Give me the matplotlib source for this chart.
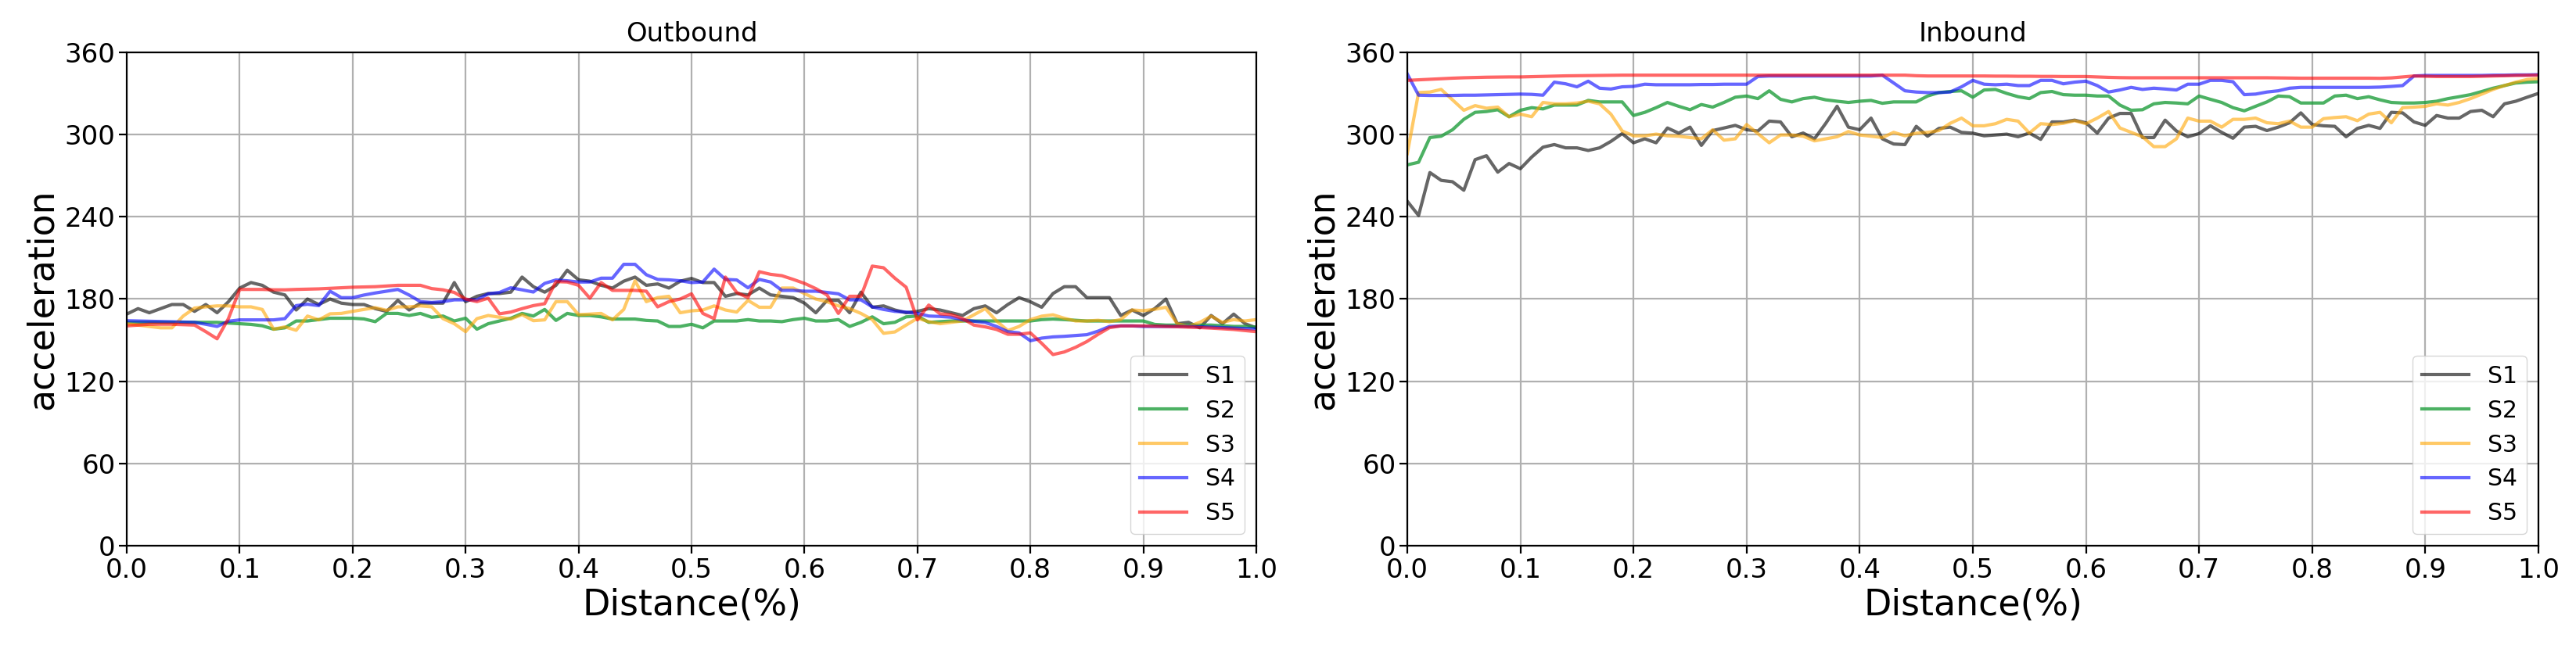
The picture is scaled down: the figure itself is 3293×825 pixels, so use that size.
import numpy as np
import matplotlib
matplotlib.use("Agg")
import matplotlib.pyplot as plt

# distance axis, 101 samples from 0 to 1
dist = np.linspace(0, 1, 101)

names = ["S1", "S2", "S3", "S4", "S5"]
colors = ["black", "#1f9e3c", "orange", "blue", "red"]
alphas = [0.6, 0.8, 0.6, 0.6, 0.6]

# ---------------- Outbound ----------------
out_s1 = [169, 173, 170, 173, 176, 176, 171, 176, 170, 178,
          188, 192, 190, 185, 183, 172, 180, 176, 180, 177,
          176, 176, 173, 171, 179, 172, 177, 177, 177, 192,
          178, 182, 184, 184, 185, 196, 189, 185, 190, 201,
          194, 193, 190, 188, 193, 196, 190, 191, 188, 193,
          195,
          192, 192, 182, 184, 183, 188, 183, 182, 181, 177,
          170, 179, 179, 170, 185, 174, 175, 172, 170, 171,
          173, 172, 170, 168, 173, 175, 170, 176, 181, 178,
          174, 184, 189, 189, 181, 181, 181, 168, 172, 168,
          173, 180, 162, 163, 159, 168, 162, 169, 162, 159]
out_s2 = [163, 163, 163, 163, 163, 163, 163, 163, 163, 162.5,
          162, 161.5, 160.5, 158, 159, 164, 164, 165, 166, 166,
          166, 165.5, 163.5, 169.5, 169.5, 168, 169.5, 166.7, 167.6, 164,
          166, 158, 162, 164, 166, 169.5, 167.6, 172.4, 164.4, 169.5,
          168, 168, 167, 165.4, 165.4, 165.4, 164.4, 164, 160, 160,
          161.6,
          159, 164, 164, 164, 165, 164, 164, 163.5, 165, 166,
          164, 164, 165, 160, 163, 167, 162, 163, 167, 167.6,
          163, 163.5, 164, 164, 164, 164, 164, 164, 164, 164,
          165, 165.4, 165, 164.5, 164, 164, 164, 164, 164, 164,
          161.5, 161, 161, 161, 161, 161, 160.5, 160, 160, 159.5]
out_s3 = [162, 161, 160, 159, 159, 167.6, 173.4, 174.3, 175, 175,
          174.3, 174.3, 172.4, 158, 159.7, 157.2, 167.6, 164.8, 169.2, 169.5,
          171, 172.4, 173.7, 171.8, 174.3, 174.3, 175, 174.3, 165.7, 162,
          156.2, 165.7, 168, 166.7, 165.4, 168.6, 164.2, 164.8, 178.1, 178.1,
          168.6, 169, 169.5, 164.8, 172.4, 193.3, 178.1, 181, 182, 170,
          171.4,
          172, 175, 172, 170.5, 179, 174, 174, 188, 188, 184,
          180, 178, 175, 173, 169.5, 165, 155, 156, 161, 166,
          163.5, 162, 163, 164, 168.5, 173, 164, 157, 160, 165,
          167.5, 168.5, 166, 164, 164, 164.5, 163.5, 165, 172, 171.5,
          172.5, 174, 162, 160, 163, 167.5, 163, 165, 164, 165]
out_s4 = [164.2, 164, 163.8, 163.6, 163.4, 163.2, 163, 161.6, 160, 163.8,
          164.8, 164.8, 164.8, 164.8, 165.7, 175.2, 176.2, 175.2, 185.7, 181,
          181, 182.9, 184.4, 185.7, 187, 182.9, 178.1, 177.5, 178.1, 179.4,
          179.4, 179.4, 183.8, 184.8, 188.2, 186.7, 185.1, 191.4, 193.9, 193.3,
          192.4, 192.4, 195.2, 195.2, 205.3, 205.3, 197.7, 194.3, 194, 193.3,
          192,
          192.4, 201.8, 194.3, 193.9, 188.2, 194.3, 192.4, 186.3, 186.3, 185.7,
          185.7, 184.8, 183.8, 179.4, 179.4, 174.3, 172.4, 171, 170.5, 169.5,
          167.6, 167.3, 166.7, 164.8, 163.8, 162.9, 160, 156.2, 155.3, 149.6,
          151.5, 152.4, 152.8, 153.4, 154, 156.6, 160, 160.4, 160.4, 160,
          160, 160, 160, 160, 159.8, 159.5, 159.2, 158.8, 158.5, 158.2]
out_s5 = [160.4, 161, 161.6, 161.6, 161.6, 161.3, 161, 156.2, 151, 165.7,
          187, 187, 187, 186.7, 186.7, 187, 187.2, 187.4, 187.8, 188.2,
          188.6, 188.8, 189, 189.5, 190, 190, 190, 187.6, 186.7, 184.8,
          180, 178.1, 180.6, 169.2, 170.5, 173, 175.2, 176.6, 192.7, 192.4,
          190, 180.6, 192, 186.3, 186.3, 186.3, 185.7, 174.3, 178.1, 180,
          183.8,
          169.5, 165.7, 196, 184.8, 181, 199.9, 198, 197, 194.3, 191.4,
          187.6, 182.9, 169.5, 182, 182, 204, 202.8, 195.2, 188.6, 164.8,
          175.6, 169.2, 168.6, 165.7, 161, 159.7, 157.8, 154.3, 154.3, 155.3,
          147.7, 139.5, 141.4, 144.8, 149, 154.3, 159.1, 160.4, 160.4, 160.4,
          160.2, 160, 159.8, 159.5, 159.2, 158.8, 158.3, 157.8, 157, 156.2]

# ---------------- Inbound ----------------
in_s1 = [251.3, 240.9, 272.2, 266.5, 265.5, 259.3, 281.6, 284.5, 272.5, 278.8,
         275, 283.5, 290.7, 292.6, 290.2, 290.2, 288.3, 290.2, 294.9, 300.6,
         293.9, 296.8, 293.9, 304.7, 300.9, 305.3, 292, 302.8, 304.7, 306.6,
         303.4, 302.5, 309.7, 309.1, 298.3, 301, 296.8, 308.1, 320.5, 305.3,
         303.4, 311.9, 296.8, 293, 292.6, 305.9, 298.7, 304.4, 305.3, 301.5,
         300.9,
         299, 299.6, 300.2, 298.3, 301, 296.4, 309.1, 309.1, 310.4, 308.5,
         301, 311.9, 315.3, 315.3, 297.7, 297.7, 310.4, 302.5, 298.3, 300.6,
         306.3, 301.5, 297.2, 305.3, 305.9, 302.8, 305.3, 308.5, 315.7, 307.2,
         306.3, 305.9, 298.3, 304.4, 306.6, 304.4, 316.1, 315.7, 309.1, 306.6,
         313.8, 311.9, 311.9, 316.7, 317.6, 312.9, 322.3, 324.2, 327.1, 329.9]
in_s2 = [277.8, 279.7, 297.7, 298.7, 303.4, 311, 316.1, 316.7, 318, 312.9,
         317.6, 319.5, 318.6, 321.4, 321.4, 321.4, 324.8, 323.7, 323.7, 323.7,
         313.8, 316.1, 319.5, 323.3, 320.5, 318, 321.8, 319.9, 323.3, 327.1,
         328, 326.1, 331.8, 325.6, 323.7, 326.1, 327.1, 325.2, 324.2, 323.3,
         324.2, 324.8, 322.7, 323.7, 323.7, 323.7, 328, 330.5, 331.3, 331.8,
         327.1,
         332.4, 332.8, 329.9, 327.5, 326.1, 330.5, 331.3, 329, 328.6, 328.6,
         328, 328, 321.4, 317.6, 318, 322.3, 323.3, 322.9, 322.3, 328,
         325.6, 323.3, 319.5, 317.2, 320.5, 323.7, 328, 327.5, 322.9, 322.9,
         322.9, 328, 328.6, 326.1, 327.5, 325.2, 323.3, 322.9, 322.9, 323.3,
         324.2, 326.1, 327.5, 329, 331.3, 333.7, 335.6, 337.5, 338.1, 338.4]
in_s3 = [286, 330.5, 330.9, 332.8, 325.2, 317.6, 321, 319.1, 319.9, 312.9,
         314.8, 312.9, 323.3, 322.3, 322.3, 322.9, 324.2, 322.3, 314.8, 302.5,
         299, 299, 300.2, 299, 298.7, 297.7, 296.8, 303.4, 295.8, 296.8,
         307.2, 300.6, 293.9, 299.6, 299.6, 298.7, 295.3, 296.8, 298.3, 302.1,
         299.6, 298.7, 297.7, 301.5, 299, 300.9, 301.5, 302.8, 308.1, 311.9,
         306.3,
         306.3, 307.8, 311, 309.7, 301, 307.8, 307.2, 308.1, 310, 307.8,
         311.9, 316.7, 304.7, 301.5, 298.3, 291.1, 291.1, 296.8, 311.9, 309.7,
         309.7, 305.3, 311, 311, 311.9, 308.5, 307.8, 309.7, 305.3, 305.3,
         311.5, 312.3, 312.9, 310, 314.8, 316.1, 308.5, 319.5, 319.9, 320.5,
         322.3, 321.4, 323.3, 326.1, 329.4, 332.8, 335.6, 338.1, 340, 340.7]
in_s4 = [344.1, 328.6, 328.4, 328.4, 328.4, 328.6, 328.6, 328.8, 329, 329.2,
         329.4, 329.2, 328.6, 338.1, 336.9, 334.7, 338.8, 333.7, 333.1, 334.7,
         335, 336.6, 336.2, 336.2, 336.2, 336.2, 336.4, 336.4, 336.6, 336.6,
         336.6, 342.2, 342.6, 342.6, 342.6, 342.6, 342.6, 342.6, 342.6, 342.6,
         342.6, 342.6, 343.2, 337.5, 331.8, 330.9, 330.5, 330.5, 330.9, 334.7,
         339.4,
         336.6, 336.2, 336.6, 335.6, 335.6, 339.4, 339.4, 336.9, 338.1, 338.8,
         335.6, 330.9, 332.4, 334.3, 332.8, 333.7, 333.1, 332.4, 336.6, 336.6,
         339.4, 339.4, 338.4, 329, 329.4, 330.9, 331.8, 333.7, 334.3, 334.3,
         334.3, 334.3, 334.3, 334.3, 334.3, 334.5, 335, 335.6, 342.6, 343,
         343, 343, 343, 343, 343, 343.2, 343.2, 343.4, 343.4, 343.6]
in_s5 = [339.4, 339.8, 340.2, 340.6, 341, 341.3, 341.5, 341.7, 341.8, 341.9,
         341.9, 342.1, 342.3, 342.5, 342.7, 342.8, 342.9, 343, 343.1, 343.2,
         343.2, 343.2, 343.2, 343.2, 343.2, 343.2, 343.2, 343.2, 343.2, 343.2,
         343.2, 343.2, 343.2, 343.2, 343.2, 343.2, 343.2, 343.2, 343.2, 343.2,
         343.2, 343.2, 343.2, 343.2, 343.2, 342.8, 342.6, 342.6, 342.6, 342.6,
         342.6,
         342.6, 342.5, 342.5, 342.4, 342.4, 342.3, 342.3, 342.2, 342.2, 342.2,
         341.9, 341.6, 341.4, 341.3, 341.3, 341.3, 341.3, 341.3, 341.3, 341.3,
         341.3, 341.3, 341.3, 341.3, 341.3, 341.3, 341.2, 341.1, 341, 341,
         341, 341, 341, 341, 341, 340.9, 341.2, 341.9, 342.6, 342.4,
         342.2, 342.2, 342.2, 342.2, 342.4, 342.6, 342.8, 343, 343.1, 343.2]

outbound = [out_s1, out_s2, out_s3, out_s4, out_s5]
inbound = [in_s1, in_s2, in_s3, in_s4, in_s5]

fig = plt.figure(figsize=(32.93, 8.25), dpi=100)
ax1 = fig.add_axes([0.0492, 0.1536, 0.4385, 0.7656])
ax2 = fig.add_axes([0.5463, 0.1536, 0.4391, 0.7656])

for ax, series, title in [(ax1, outbound, "Outbound"), (ax2, inbound, "Inbound")]:
    for vals, name, c, a in zip(series, names, colors, alphas):
        ax.plot(dist, vals, color=c, alpha=a, linewidth=3, label=name)
    ax.set_xlim(0, 1)
    ax.set_ylim(0, 360)
    ax.set_xticks(np.arange(0, 1.01, 0.1))
    ax.set_yticks(np.arange(0, 361, 60))
    ax.tick_params(labelsize=24.5, length=7, width=1.6)
    ax.grid(True, linewidth=1.6)
    for sp in ax.spines.values():
        sp.set_linewidth(1.6)
    ax.set_title(title, fontsize=24.5, pad=10)
    ax.set_xlabel("Distance(%)", fontsize=33)
    ax.set_ylabel("acceleration", fontsize=33)
    ax.legend(loc="lower right", fontsize=21.5)

fig.savefig("out.png", dpi=100)
